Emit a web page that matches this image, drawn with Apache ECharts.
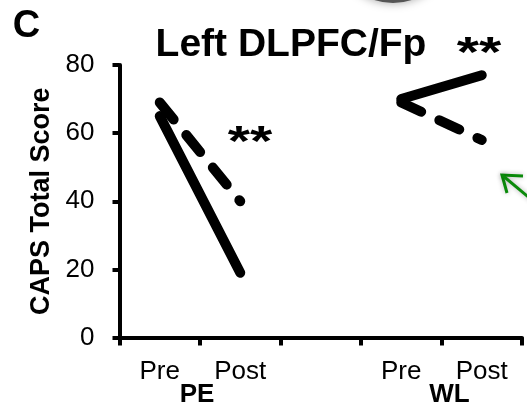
<!DOCTYPE html>
<html>
<head>
<meta charset="utf-8">
<script src="https://cdn.jsdelivr.net/npm/echarts@6/dist/echarts.min.js"></script>
<style>
  html, body { margin: 0; padding: 0; background: #fff; }
  #chart { width: 527px; height: 412px; }
</style>
</head>
<body>
<div id="chart"></div>
<script>
// ---- data ----
const categories = ['Pre', 'Post', '', 'Pre', 'Post'];
const groupLabels = ['', 'PE', '', '', 'WL', ''];
const peSolid   = [65, 19, null, null, null];
const peDashed  = [69, 40, null, null, null];
const wlSolid   = [null, null, null, 70, 77];
const wlDashed  = [null, null, null, 69, 58];
const yTicks = [0, 20, 40, 60, 80];
const titleText = 'Left DLPFC/Fp';
const yName = 'CAPS Total Score';
const panelLetter = 'C';
const sigMark = '**';

const FONT = '"Liberation Sans", Arial, Helvetica, sans-serif';
const chart = echarts.init(document.getElementById('chart'), null, { renderer: 'canvas' });

function lineSeries(data, dashed) {
  return {
    type: 'line',
    data: data,
    xAxisIndex: 0,
    symbol: 'none',
    showSymbol: false,
    connectNulls: false,
    silent: true,
    animation: false,
    lineStyle: {
      color: '#000',
      width: 10,
      cap: 'round',
      join: 'round',
      type: dashed ? [22, 20] : 'solid'
    }
  };
}

const option = {
  animation: false,
  backgroundColor: '#fff',
  grid: { left: 119.5, right: 5, top: 65, bottom: 74.5, containLabel: false },
  xAxis: [
    {
      type: 'category',
      data: categories,
      boundaryGap: true,
      position: 'bottom',
      axisLine: { show: true, lineStyle: { color: '#000', width: 4 } },
      axisTick: { show: true, length: 8, lineStyle: { color: '#000', width: 4 }, alignWithLabel: false, interval: 0 },
      axisLabel: { interval: 0, margin: 21, color: '#000', fontFamily: FONT, fontSize: 26 },
      splitLine: { show: false }
    },
    {
      type: 'category',
      data: groupLabels.map(function (g) {
        if (g === 'WL') return { value: g, textStyle: { padding: [0, 0, 0, 16] } };
        if (g === 'PE') return { value: g, textStyle: { padding: [0, 6, 0, 0] } };
        return g;
      }),
      boundaryGap: false,
      position: 'bottom',
      offset: 0,
      axisLine: { show: false },
      axisTick: { show: false },
      axisLabel: { interval: 0, margin: 44, color: '#000', fontFamily: FONT, fontSize: 26, fontWeight: 'bold' },
      splitLine: { show: false }
    }
  ],
  yAxis: {
    type: 'value',
    min: yTicks[0],
    max: yTicks[yTicks.length - 1],
    interval: yTicks[1] - yTicks[0],
    name: yName,
    nameLocation: 'middle',
    nameRotate: 90,
    nameGap: 64,
    nameTextStyle: { color: '#000', fontFamily: FONT, fontSize: 27, fontWeight: 'bold' },
    axisLine: { show: true, lineStyle: { color: '#000', width: 4 } },
    axisTick: { show: true, length: 7, lineStyle: { color: '#000', width: 4 } },
    axisLabel: { margin: 25, color: '#000', fontFamily: FONT, fontSize: 26 },
    splitLine: { show: false }
  },
  series: [
    lineSeries(peDashed, true),
    lineSeries(peSolid, false),
    lineSeries(wlDashed, true),
    lineSeries(wlSolid, false)
  ],
  graphic: [
    // partial gray disc at the top edge (from the surrounding figure)
    { type: 'circle', shape: { cx: 393, cy: -57, r: 60 }, style: { fill: '#555', shadowBlur: 10, shadowColor: 'rgba(0,0,0,0.35)' }, silent: true },
    // green arrow at the right edge (from the surrounding figure)
    { type: 'polyline', shape: { points: [[523, 176], [502, 175], [507, 193]] }, style: { stroke: '#0a8a0a', lineWidth: 3, fill: null, shadowBlur: 5, shadowColor: 'rgba(0,0,0,0.3)' }, silent: true },
    { type: 'line', shape: { x1: 502, y1: 175, x2: 532, y2: 200 }, style: { stroke: '#0a8a0a', lineWidth: 3, shadowBlur: 5, shadowColor: 'rgba(0,0,0,0.3)' }, silent: true },
    { type: 'text', x: 26.5, y: 27, style: { text: panelLetter, fill: '#000', font: 'bold 38px ' + FONT, textAlign: 'center', textVerticalAlign: 'middle' } },
    { type: 'text', x: 291, y: 45.5, style: { text: titleText, fill: '#000', font: 'bold 39px ' + FONT, textAlign: 'center', textVerticalAlign: 'middle' } },
    { type: 'text', x: 250, y: 143, scaleX: 1.33, style: { text: sigMark, fill: '#000', font: 'bold 43px ' + FONT, textAlign: 'center', textVerticalAlign: 'middle' } },
    { type: 'text', x: 479, y: 54, scaleX: 1.33, style: { text: sigMark, fill: '#000', font: 'bold 43px ' + FONT, textAlign: 'center', textVerticalAlign: 'middle' } }
  ]
};
chart.setOption(option);
</script>
</body>
</html>
